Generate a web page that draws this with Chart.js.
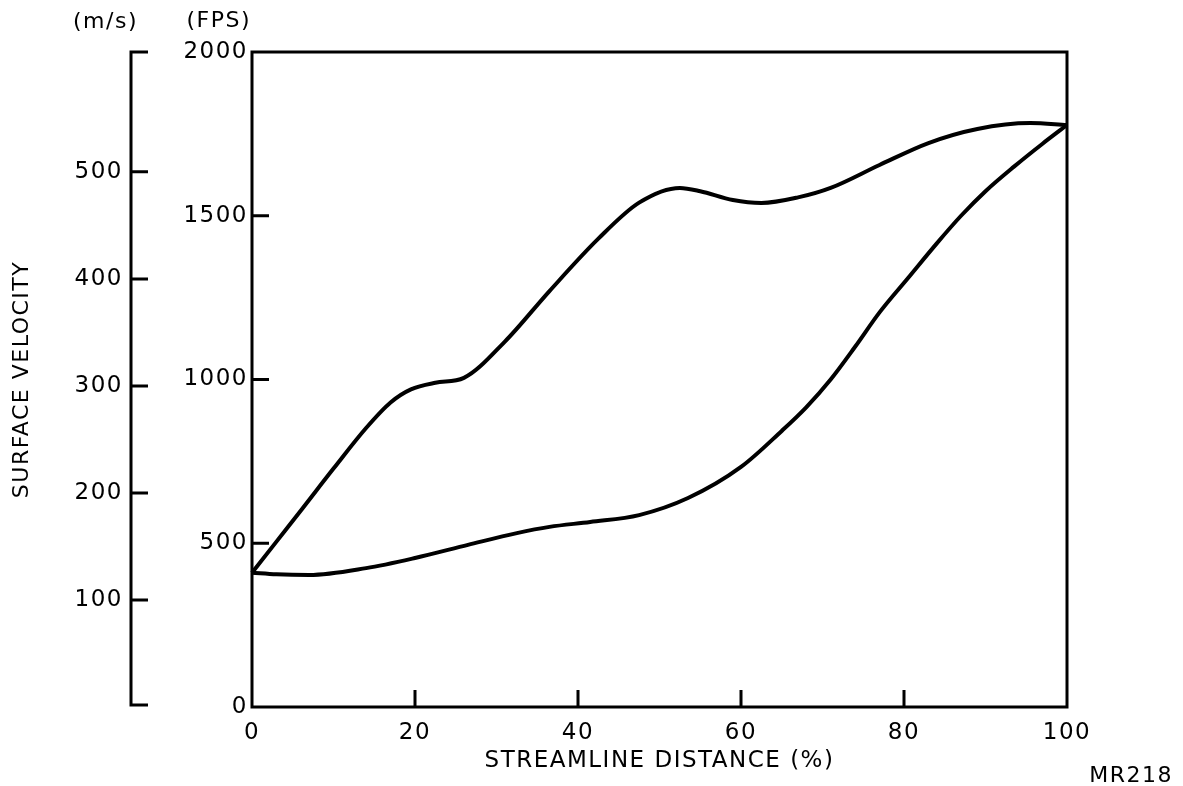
<!DOCTYPE html>
<html>
<head>
<meta charset="utf-8">
<title>Surface velocity vs streamline distance</title>
<script src="https://cdn.jsdelivr.net/npm/chart.js@4"></script>
<style>
  html, body { margin: 0; padding: 0; background: #fff; }
  canvas { display: block; }
</style>
</head>
<body>
<canvas id="myChart" width="1183" height="786"></canvas>
<script>
/* globals Chart:false */
(() => {
  "use strict";

  // streamline distance (%) / surface velocity (FPS)
  const upperDistance = [0, 3, 6, 10, 14, 17, 19.5, 22.5, 26, 31, 36.5, 42.5, 47.5, 52.5, 55, 59, 62.5, 67, 71, 77, 83, 89, 95.5, 100];
  const upperVelocity = [410, 505, 600, 728, 852, 930, 970, 990, 1005, 1115, 1270, 1430, 1540, 1585, 1575, 1548, 1539, 1556, 1585, 1655, 1722, 1765, 1783, 1777];

  const lowerDistance = [0, 3, 7, 14, 20, 26.5, 32.5, 36.5, 41.5, 47.5, 53.5, 60, 65, 68, 71, 74, 77, 80.5, 84, 87, 90, 93.5, 97, 100];
  const lowerVelocity = [410, 405, 403, 424, 455, 495, 531, 550, 565, 586, 638, 733, 843, 915, 1000, 1100, 1205, 1310, 1415, 1500, 1575, 1650, 1720, 1777];

  // axis ticks
  const distanceTicks = [0, 20, 40, 60, 80, 100];
  const fpsTicks = [0, 500, 1000, 1500, 2000];
  const msTicks = [100, 200, 300, 400, 500];
  const msMax = 612; // m/s scale as drawn against 2000 FPS

  const toPoints = (xs, ys) => xs.map((x, i) => ({ x, y: ys[i] }));
  const plain = (v) => String(v);

  const family = "'DejaVu Sans', sans-serif";
  const tickFont = { family, size: 23 };

  // the old typewriter lettering is spaced out a little
  const spacing = {
    id: "spacing",
    beforeDraw(chart) {
      chart.ctx.letterSpacing = "1.5px";
    },
  };

  // box, inward ticks, m/s bracket and loose labels
  const frame = {
    id: "frame",
    afterDatasetsDraw(chart) {
      const { ctx, chartArea: a, scales } = chart;
      const tick = 17;
      ctx.save();
      ctx.strokeStyle = "#000";
      ctx.lineWidth = 3;
      ctx.strokeRect(a.left, a.top, a.right - a.left, a.bottom - a.top);

      ctx.beginPath();
      fpsTicks.slice(1, -1).forEach((v) => {
        const y = scales.y.getPixelForValue(v);
        ctx.moveTo(a.left, y);
        ctx.lineTo(a.left + tick, y);
      });
      distanceTicks.slice(1, -1).forEach((v) => {
        const x = scales.x.getPixelForValue(v);
        ctx.moveTo(x, a.bottom);
        ctx.lineTo(x, a.bottom - tick);
      });
      ctx.stroke();

      const ms = scales.ms;
      const bx = ms.right;
      ctx.beginPath();
      ctx.moveTo(bx + tick, ms.top);
      ctx.lineTo(bx, ms.top);
      ctx.lineTo(bx, ms.bottom - 2);
      ctx.lineTo(bx + tick, ms.bottom - 2);
      msTicks.forEach((v) => {
        const y = ms.getPixelForValue(v);
        ctx.moveTo(bx, y);
        ctx.lineTo(bx + tick, y);
      });
      ctx.stroke();

      ctx.fillStyle = "#000";
      ctx.font = "22px " + family;
      ctx.textBaseline = "middle";
      ctx.textAlign = "right";
      ctx.fillText("(m/s)", bx + 7, 22);
      ctx.fillText("(FPS)", a.left - 1, 21);
      ctx.fillText("MR218", chart.width - 10, 776);
      ctx.restore();
    },
  };

  const ctx = document.getElementById("myChart");
  // eslint-disable-next-line no-unused-vars
  const myChart = new Chart(ctx, {
    type: "line",
    data: {
      datasets: [
        {
          data: toPoints(upperDistance, upperVelocity),
          borderColor: "#000",
          borderWidth: 4,
          pointRadius: 0,
          cubicInterpolationMode: "monotone",
          clip: 4,
        },
        {
          data: toPoints(lowerDistance, lowerVelocity),
          borderColor: "#000",
          borderWidth: 4,
          pointRadius: 0,
          cubicInterpolationMode: "monotone",
          clip: 4,
        },
      ],
    },
    options: {
      responsive: false,
      animation: false,
      color: "#000",
      font: tickFont,
      layout: {
        padding: { top: 52, right: 116, bottom: 0, left: 0 },
      },
      plugins: {
        legend: { display: false },
        tooltip: { enabled: false },
      },
      scales: {
        x: {
          type: "linear",
          min: 0,
          max: 100,
          afterBuildTicks: (scale) => {
            scale.ticks = distanceTicks.map((value) => ({ value }));
          },
          afterFit: (scale) => {
            scale.height = 79;
          },
          grid: { display: false, drawTicks: false },
          border: { display: false },
          ticks: { color: "#000", font: tickFont, padding: 12, maxRotation: 0, callback: plain },
          title: {
            display: true,
            text: "STREAMLINE DISTANCE (%)",
            color: "#000",
            font: { family, size: 23 },
            padding: { top: 0, bottom: 11 },
          },
        },
        y: {
          type: "linear",
          position: "left",
          weight: 0,
          min: 0,
          max: 2000,
          afterBuildTicks: (scale) => {
            scale.ticks = fpsTicks.map((value) => ({ value }));
          },
          afterFit: (scale) => {
            scale.width = 121;
          },
          grid: { display: false, drawTicks: false },
          border: { display: false },
          ticks: { color: "#000", font: tickFont, padding: 4, callback: plain },
        },
        ms: {
          type: "linear",
          position: "left",
          weight: 1,
          min: 0,
          max: msMax,
          afterBuildTicks: (scale) => {
            scale.ticks = msTicks.map((value) => ({ value }));
          },
          afterFit: (scale) => {
            scale.width = 131;
          },
          grid: { display: false, drawTicks: false },
          border: { display: false },
          ticks: { color: "#000", font: tickFont, padding: 8, callback: plain },
          title: {
            display: true,
            text: "SURFACE VELOCITY",
            color: "#000",
            font: { family, size: 22 },
            padding: { top: 9, bottom: 0 },
          },
        },
      },
    },
    plugins: [spacing, frame],
  });
})();
</script>
</body>
</html>
